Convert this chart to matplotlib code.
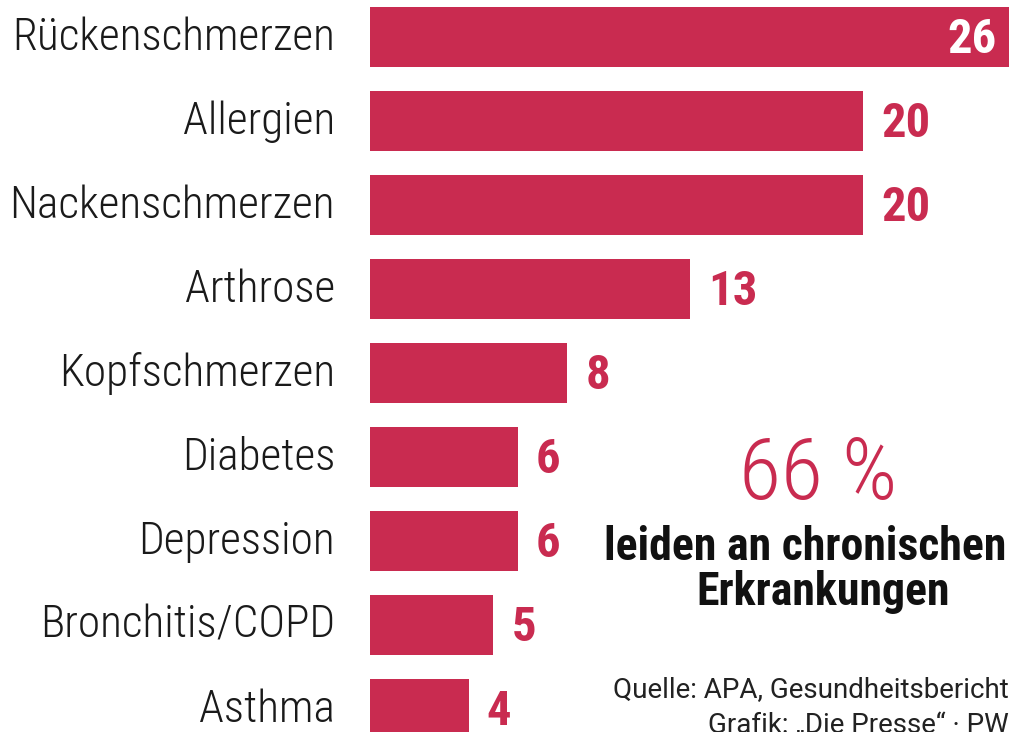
import matplotlib
matplotlib.use("Agg")
import matplotlib.pyplot as plt

# chronic conditions, share in percent
categories = ["Rückenschmerzen", "Allergien", "Nackenschmerzen", "Arthrose",
              "Kopfschmerzen", "Diabetes", "Depression", "Bronchitis/COPD", "Asthma"]
values = [26, 20, 20, 13, 8, 6, 6, 5, 4]

headline_value = "66 %"
headline_lines = ["leiden an chronischen", "Erkrankungen"]
source_lines = ["Quelle: APA, Gesundheitsbericht", "Grafik: „Die Presse“ · PW"]

RED = "#C92B50"
# condensed face; falls back to DejaVu Sans Condensed
plt.rcParams["font.family"] = ["Roboto Condensed", "DejaVu Sans"]
plt.rcParams["font.stretch"] = "condensed"

W, H = 1009, 732
fig = plt.figure(figsize=(W / 100, H / 100), dpi=100)

# axes starts where the bars start, covers full height
x0 = 370
ax = fig.add_axes([x0 / W, 0, (W - x0) / W, 1])
px_per_unit = 24.65
row = 84
first_center = 37
ax.set_xlim(0, (W - x0) / px_per_unit)
ax.set_ylim((H - first_center) / row, -first_center / row)
ax.axis("off")

ypos = list(range(len(categories)))
ax.barh(ypos, values, height=60 / row, color=RED, linewidth=0)

for y, cat, v in zip(ypos, categories, values):
    ax.annotate(cat, xy=(0, y), xytext=(-35, 4), textcoords="offset pixels",
                ha="right", va="center_baseline", fontsize=32.6, fontweight="light",
                color="#1a1a1a", annotation_clip=False)
    if v == max(values):
        ax.annotate(str(v), xy=(v, y), xytext=(-14, 2), textcoords="offset pixels",
                    ha="right", va="center_baseline", fontsize=35, fontweight="bold",
                    color="white", annotation_clip=False)
    else:
        ax.annotate(str(v), xy=(v, y), xytext=(18, 2), textcoords="offset pixels",
                    ha="left", va="center_baseline", fontsize=35, fontweight="bold",
                    color=RED, annotation_clip=False)

fig.text(818 / W, 1 - 467 / H, headline_value, ha="center", va="center_baseline",
         fontsize=62, color=RED, fontweight="light")
fig.text(805 / W, 1 - 560 / H, headline_lines[0], ha="center", va="baseline",
         fontsize=33, fontweight="bold", color="#111111")
fig.text(823 / W, 1 - 605 / H, headline_lines[1], ha="center", va="baseline",
         fontsize=33, fontweight="bold", color="#111111")
for i, line in enumerate(source_lines):
    fig.text(1009 / W, 1 - (697 + 37 * i) / H, line, ha="right", va="baseline",
             fontsize=20, color="#222222", family=["Roboto", "DejaVu Sans"],
             fontstretch="normal")

fig.savefig("out.png", dpi=100)
